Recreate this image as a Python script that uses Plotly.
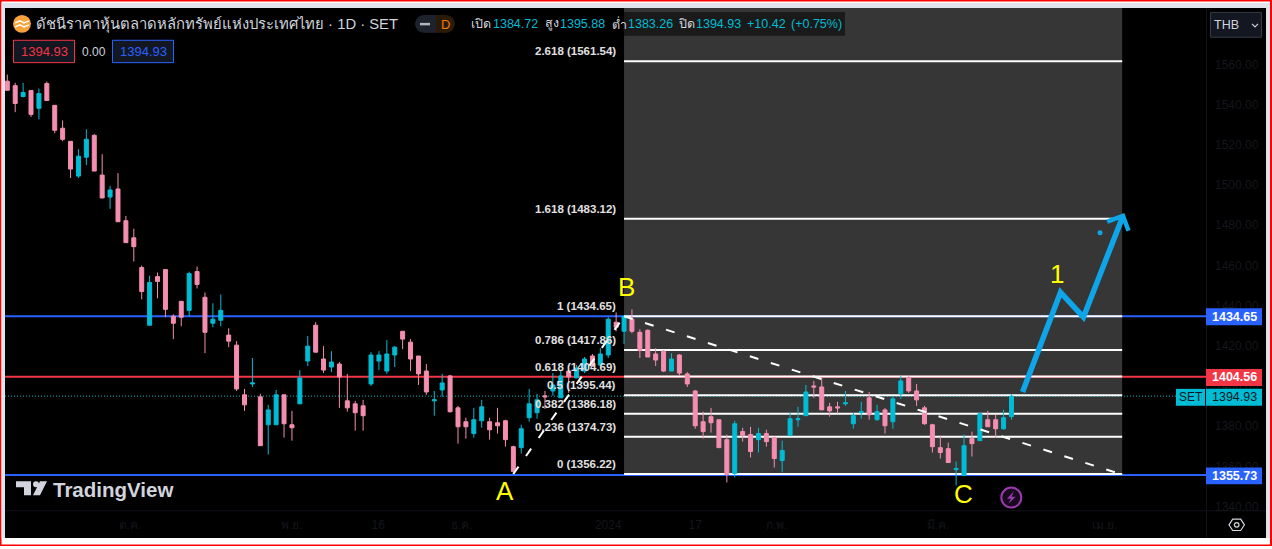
import plotly.graph_objects as go

# SET index daily candles
opens = [1551.6,1549.4,1544.0,1547.0,1538.1,1550.4,1539.6,1528.2,1521.7,1504.4,
         1513.8,1524.7,1504.9,1494.0,1498.0,1482.2,1473.7,1458.9,1430.2,1454.4,
         1457.9,1434.7,1442.1,1437.6,1456.9,1444.1,1431.2,1432.7,1425.3,1420.3,
         1395.6,1401.0,1394.6,1380.7,1380.7,1395.6,1380.7,1391.1,1412.4,1430.2,
         1413.4,1409.4,1410.9,1392.6,1391.1,1390.1,1401.0,1412.4,1407.4,1415.4,
         1427.2,1421.8,1414.9,1407.4,1392.6,1398.0,1405.0,1389.1,1382.2,1376.3,
         1382.7,1382.2,1381.7,1382.7,1369.8,1369.3,1384.2,1386.7,1395.1,1397.5,
         1394.1,1407.4,1404.0,1407.4,1414.9,1410.4,1415.4,1431.7,1427.2,1433.2,
         1426.7,1427.7,1415.9,1417.3,1407.4,1415.4,1406.0,1397.5,1382.2,1384.7,
         1383.2,1373.3,1356.5,1377.3,1375.8,1373.3,1376.3,1374.3,1362.9,1375.3,
         1383.2,1385.2,1400.0,1399.5,1389.6,1389.6,1391.1,1381.2,1386.7,1394.1,
         1383.2,1388.1,1382.2,1396.1,1404.0,1397.5,1389.1,1380.7,1369.3,1368.8,
         1358.4,1355.5,1373.8,1372.8,1383.2,1383.2,1378.7,1384.72]
highs = [1554.9,1550.8,1550.8,1547.0,1548.0,1551.4,1539.6,1532.1,1521.7,1517.8,
         1527.7,1525.2,1515.3,1499.5,1505.9,1484.6,1478.2,1459.9,1454.9,1456.4,
         1457.9,1435.6,1442.1,1456.9,1459.4,1446.5,1441.1,1445.5,1428.7,1422.3,
         1398.5,1413.9,1396.1,1390.6,1398.0,1395.6,1387.6,1407.9,1424.8,1431.7,
         1419.8,1417.3,1411.9,1406.0,1392.6,1393.1,1416.8,1417.3,1422.8,1419.8,
         1427.2,1423.3,1414.9,1410.9,1397.5,1406.0,1405.5,1390.1,1384.2,1389.1,
         1393.1,1384.2,1389.1,1383.2,1370.3,1380.7,1398.5,1396.1,1397.5,1406.4,
         1407.9,1407.4,1410.4,1414.4,1415.9,1418.8,1434.2,1436.6,1434.7,1438.1,
         1428.2,1428.2,1418.8,1417.8,1416.3,1415.9,1406.9,1398.0,1387.2,1389.1,
         1383.2,1375.8,1382.7,1379.2,1379.7,1379.2,1378.2,1374.8,1372.8,1386.7,
         1389.6,1400.5,1402.5,1404.0,1391.6,1392.1,1397.5,1386.7,1392.1,1397.0,
         1390.6,1389.1,1395.1,1405.0,1405.0,1401.0,1390.1,1381.2,1375.3,1371.8,
         1362.4,1375.8,1377.3,1386.7,1387.6,1385.7,1388.1,1395.88]
lows = [1547.1,1536.2,1543.5,1533.8,1532.6,1542.0,1525.7,1521.7,1503.4,1503.4,
        1509.9,1506.9,1493.5,1488.1,1481.7,1471.3,1461.9,1443.1,1430.2,1443.6,
        1434.2,1423.3,1429.7,1434.7,1448.5,1416.3,1429.2,1429.7,1419.3,1397.5,
        1387.6,1399.5,1370.3,1365.9,1380.7,1374.3,1372.8,1391.1,1409.9,1416.8,
        1406.4,1406.9,1389.1,1387.2,1377.8,1377.8,1400.0,1407.9,1406.0,1409.4,
        1418.3,1407.4,1400.5,1395.6,1385.2,1394.6,1386.7,1371.3,1373.8,1374.3,
        1379.2,1373.3,1376.3,1369.8,1356.2,1366.4,1382.2,1383.7,1388.6,1395.1,
        1394.1,1396.6,1404.0,1406.4,1409.9,1409.9,1413.9,1427.2,1420.8,1426.2,
        1413.9,1414.4,1409.9,1406.9,1407.4,1405.0,1399.5,1378.7,1373.8,1376.8,
        1369.3,1352.0,1354.5,1372.3,1364.4,1366.9,1369.8,1359.4,1357.0,1375.3,
        1379.7,1385.2,1394.1,1388.1,1384.7,1386.2,1390.1,1378.7,1383.7,1383.2,
        1382.7,1376.3,1378.7,1393.6,1396.6,1390.1,1380.7,1366.9,1363.9,1361.9,
        1350.5,1355.5,1364.9,1372.8,1379.7,1374.3,1378.2,1383.26]
closes = [1547.1,1540.5,1546.0,1535.1,1545.5,1542.0,1527.2,1522.7,1507.9,1514.3,
          1522.7,1506.9,1493.5,1497.5,1481.7,1471.3,1469.3,1447.0,1451.5,1452.0,
          1438.1,1431.2,1434.2,1455.9,1450.5,1426.7,1433.2,1437.6,1422.3,1398.5,
          1390.6,1401.5,1370.3,1388.1,1395.6,1381.2,1379.2,1404.0,1419.8,1416.8,
          1407.9,1411.9,1404.5,1389.1,1386.7,1385.2,1415.4,1415.4,1415.9,1419.3,
          1423.3,1413.4,1406.0,1397.0,1393.1,1401.5,1387.2,1379.7,1379.7,1383.2,
          1389.6,1378.2,1380.2,1373.3,1357.5,1378.7,1391.1,1393.1,1394.6,1400.5,
          1405.0,1404.5,1408.9,1413.4,1409.9,1415.9,1433.2,1429.2,1434.7,1427.2,
          1417.8,1414.4,1412.9,1407.4,1413.4,1406.4,1401.0,1380.2,1377.3,1381.7,
          1369.3,1356.0,1381.2,1375.3,1367.4,1376.3,1372.3,1363.9,1367.9,1383.7,
          1383.7,1397.0,1399.5,1388.1,1387.6,1389.1,1391.6,1385.2,1387.2,1385.7,
          1387.2,1380.2,1393.6,1402.5,1397.5,1393.1,1381.2,1369.8,1366.9,1361.9,
          1358.9,1370.3,1371.3,1386.2,1379.7,1378.7,1384.2,1394.93]

price_ticks = [1340,1360,1380,1400,1420,1440,1460,1480,1500,1520,1540,1560]
time_tickvals = [15.5,36,46.9,57.5,76,87,97.3,117.7,138.8]
time_ticktext = ["ต.ค.","พ.ย.","16","ธ.ค.","2024","17","ก.พ.","มี.ค.","เม.ย."]

fib_ratios = ["0","0.236","0.382","0.5","0.618","0.786","1","1.618","2.618"]
fib_prices = [1356.22,1374.73,1386.18,1395.44,1404.69,1417.86,1434.65,1483.12,1561.54]
fib_start, fib_end = 78, 141

up_trend_x, up_trend_y = [64,78], [1356.22,1434.65]
down_trend_x, down_trend_y = [78,141], [1434.65,1355.9]
arrow_x = [128.4,133.2,136.1,141.1]
arrow_y = [1397.0,1446.5,1434.2,1484.6]
head_x = [139.1,141.1,141.8]
head_y = [1481.7,1484.6,1477.2]
dot_x, dot_y = [138.2], [1476.2]

wave_labels = ["A","B","C","1"]
wave_x = [63,78.3,120.9,132.7]
wave_y = [1347.5,1449.0,1346.5,1455.5]

blue_levels = [1434.65,1355.73]
red_level = 1404.56
last_price = 1394.93

W, H = 1272, 549
PINK, CYAN, BLUE, RED = "#f48fb1", "#00bcd4", "#2962ff", "#f23645"
FONT = "Liberation Sans, Noto Sans, sans-serif"
TEXT = "#d1d4dc"
DARK = "#14161c"


def px(x):
    return x / W


def py(y):
    return 1 - y / H


def box(x0, y0, x1, y1, fill, line=None, lw=1, layer="below"):
    return dict(type="rect", xref="paper", yref="paper", x0=px(x0), x1=px(x1), y0=py(y0), y1=py(y1),
                fillcolor=fill, line=dict(color=line or fill, width=lw if line else 0), layer=layer)


def poly(points, fill=None, line=None, lw=1, closed=True):
    path = "M " + " L ".join(f"{px(x):.5f},{py(y):.5f}" for x, y in points) + (" Z" if closed else "")
    return dict(type="path", xref="paper", yref="paper", path=path, fillcolor=fill or "rgba(0,0,0,0)",
                line=dict(color=line or "rgba(0,0,0,0)", width=lw), layer="above")


def circle(cx, cy, r, fill=None, line=None, lw=1):
    return dict(type="circle", xref="paper", yref="paper", x0=px(cx - r), x1=px(cx + r), y0=py(cy + r), y1=py(cy - r),
                fillcolor=fill or "rgba(0,0,0,0)", line=dict(color=line or "rgba(0,0,0,0)", width=lw), layer="above")


def label(x, y, text, color=TEXT, size=13, anchor="left", bold=False):
    # annotations carry about 2px of padding on each side
    x = x - 2 if anchor == "left" else x
    return dict(xref="paper", yref="paper", x=px(x), y=py(y), text=f"<b>{text}</b>" if bold else text, showarrow=False,
                xanchor=anchor, yanchor="middle", font=dict(family=FONT, size=size, color=color))


shapes = [
    box(0, 0, W, H, "#ff0000"),
    box(1.5, 1.5, 1270, 547.5, "#ffffff"),
    box(1.5, 3, 1270, 541, "#e0e3eb"),
    box(5, 8, 1266, 541, "#000000"),
    # fib background
    dict(type="rect", xref="x", yref="paper", x0=fib_start, x1=fib_end, y0=py(478), y1=py(8),
         fillcolor="#363636", line=dict(width=0), layer="below"),
    # OHLC strip
    box(624, 12, 845, 36, "#1a1a1a"),
    # axis separators
    box(1206, 8, 1207, 541, "#101218"),
    box(5, 513, 1266, 514, "#101218"),
]
for lvl in blue_levels:
    shapes.append(dict(type="line", xref="paper", yref="y", x0=px(5), x1=px(1206), y0=lvl, y1=lvl,
                       line=dict(color=BLUE, width=2), layer="below"))
shapes.append(dict(type="line", xref="paper", yref="y", x0=px(5), x1=px(1206), y0=red_level, y1=red_level,
                   line=dict(color=RED, width=2), layer="below"))
shapes.append(dict(type="line", xref="paper", yref="y", x0=px(5), x1=px(1176), y0=last_price, y1=last_price,
                   line=dict(color=CYAN, width=1, dash="1px,2px"), layer="below"))
for p in fib_prices:
    shapes.append(dict(type="line", xref="x", yref="y", x0=fib_start, x1=fib_end, y0=p, y1=p,
                       line=dict(color="#ffffff", width=2), layer="below"))

# header chips, price tags and small icons
shapes += [
    circle(22, 24, 9, fill="#f7a23b"),
    poly([(15, 23), (20, 21), (24, 23), (29, 21)], line="#ffffff", lw=1.5, closed=False),
    poly([(15, 27), (20, 25), (24, 27), (29, 25)], line="#ffffff", lw=1.5, closed=False),
    circle(424, 24, 9, fill="#1e222d"),
    circle(446, 24, 9, fill="#2a1a08"),
    box(424, 15, 436, 33, "#1e222d", layer="above"),
    box(436, 15, 446, 33, "#2a1a08", layer="above"),
    box(420, 23, 430, 25.5, "#b2b5be", layer="above"),
    box(13.5, 40.5, 74.5, 63, "#131722", RED),
    box(112.5, 40.5, 173.5, 63, "#131722", BLUE),
    box(1210.5, 12.5, 1261.5, 37.5, "#131722", "#363a45"),
    poly([(1252, 24), (1255, 27), (1258, 24)], line=TEXT, lw=1.2, closed=False),
    box(1206, 310, 1262, 327, BLUE, layer="above"),
    box(1206, 371, 1262, 388, RED, layer="above"),
    box(1176, 391, 1205, 408, CYAN, layer="above"),
    box(1206, 391, 1262, 408, CYAN, layer="above"),
    box(1206, 470, 1262, 487, BLUE, layer="above"),
    # tradingview mark
    poly([(16, 484), (31, 484), (31, 498), (24, 498), (24, 490), (16, 490)], fill="#d1d4dc"),
    circle(36, 487, 3, fill="#d1d4dc"),
    poly([(40, 484), (47, 484), (40, 498), (33, 498)], fill="#d1d4dc"),
    # lightning badge
    circle(1011.3, 500.3, 10, fill="#1a0a20", line="#9c3bb0", lw=2),
    poly([(1014, 494), (1007, 501.5), (1011, 501.5), (1008.5, 506.5), (1015.5, 499.5), (1011.5, 499.5)], fill="#9c3bb0"),
    # settings hexagon
    poly([(1229, 527.7), (1232.7, 522), (1240.7, 522), (1244.4, 527.7), (1240.7, 533.4), (1232.7, 533.4)], line=TEXT, lw=1.2),
    circle(1236.7, 527.7, 2.3, line=TEXT, lw=1.2),
]

annotations = [
    label(36, 24, "ดัชนีราคาหุ้นตลาดหลักทรัพย์แห่งประเทศไทย · 1D · SET", TEXT, 14.8),
    label(445.5, 24.5, "D", "#f57c00", 13, "center"),
    label(471, 24, "เปิด", TEXT, 12.5), label(493, 24, "1384.72", CYAN, 12.5),
    label(545, 24, "สูง", TEXT, 12.5), label(560, 24, "1395.88", CYAN, 12.5),
    label(612, 24, "ต่ำ", TEXT, 12.5), label(628, 24, "1383.26", CYAN, 12.5),
    label(679, 24, "ปิด", TEXT, 12.5), label(696, 24, "1394.93", CYAN, 12.5),
    label(747, 24, "+10.42", CYAN, 12.5), label(791, 24, "(+0.75%)", CYAN, 12.5),
    label(44, 52, "1394.93", RED, 13, "center"),
    label(93.5, 52, "0.00", TEXT, 12, "center"),
    label(143, 52, "1394.93", BLUE, 13, "center"),
    label(1214, 25, "THB", TEXT, 12.5),
    label(1234, 318.5, "1434.65", "#ffffff", 12.5, "center", True),
    label(1234, 379.5, "1404.56", "#ffffff", 12.5, "center", True),
    label(1190.5, 399.5, "SET", "#131722", 12, "center"),
    label(1234, 399.5, "1394.93", "#131722", 12.5, "center"),
    label(1234, 478.5, "1355.73", "#ffffff", 12.5, "center", True),
    label(53, 492, "TradingView", "#d1d4dc", 20.5, "left", True),
]
for ratio, p in zip(fib_ratios, fib_prices):
    annotations.append(dict(xref="x", yref="y", x=fib_start - 0.8, y=p, text=f"<b>{ratio} ({p:.2f})</b>", showarrow=False,
                            xanchor="right", yanchor="bottom", yshift=2,
                            font=dict(family=FONT, size=11.5, color="#e0e0e0")))
for t, x, y in zip(wave_labels, wave_x, wave_y):
    annotations.append(dict(xref="x", yref="y", x=x, y=y, text=t, showarrow=False,
                            font=dict(family=FONT, size=26, color="#ffff00")))

fig = go.Figure()
for xs, ys in [(up_trend_x, up_trend_y), (down_trend_x, down_trend_y)]:
    fig.add_trace(go.Scatter(x=xs, y=ys, mode="lines", hoverinfo="skip",
                             line=dict(color="#ffffff", width=2, dash="9px,13px")))
fig.add_trace(go.Candlestick(
    x=list(range(len(opens))), open=opens, high=highs, low=lows, close=closes,
    increasing=dict(line=dict(color=CYAN, width=1), fillcolor=CYAN),
    decreasing=dict(line=dict(color=PINK, width=1), fillcolor=PINK),
    whiskerwidth=0, hoverinfo="skip"))
fig.add_trace(go.Scatter(x=arrow_x, y=arrow_y, mode="lines", hoverinfo="skip",
                         line=dict(color="#0ea5e9", width=5.5, shape="linear")))
fig.add_trace(go.Scatter(x=head_x, y=head_y, mode="lines", hoverinfo="skip",
                         line=dict(color="#0ea5e9", width=4.5)))
fig.add_trace(go.Scatter(x=dot_x, y=dot_y, mode="markers", hoverinfo="skip",
                         marker=dict(color="#0ea5e9", size=5)))

fig.update_layout(
    width=W, height=H, margin=dict(l=0, r=0, t=0, b=0), showlegend=False,
    paper_bgcolor="#ffffff", plot_bgcolor="#000000", boxgap=0.3, boxgroupgap=0.28,
    shapes=shapes, annotations=annotations,
    xaxis=dict(domain=[px(5), px(1206)], range=[-0.29, 151.6], rangeslider=dict(visible=False),
               showgrid=False, zeroline=False, showline=False, ticks="",
               tickmode="array", tickvals=time_tickvals, ticktext=time_ticktext, ticklabelstandoff=5,
               tickfont=dict(family=FONT, size=12, color=DARK)),
    yaxis=dict(domain=[py(514), py(8)], range=[1337.7, 1588.04], side="right", showgrid=False, zeroline=False,
               showline=False, ticks="", tickmode="array", tickvals=price_ticks,
               ticktext=[f"{v:.2f}" for v in price_ticks], ticklabelstandoff=8,
               tickfont=dict(family=FONT, size=12, color=DARK)),
)

fig.write_html("out.html", config=dict(displayModeBar=False),
               post_script="document.body.style.margin='0';document.body.style.overflow='hidden';")
